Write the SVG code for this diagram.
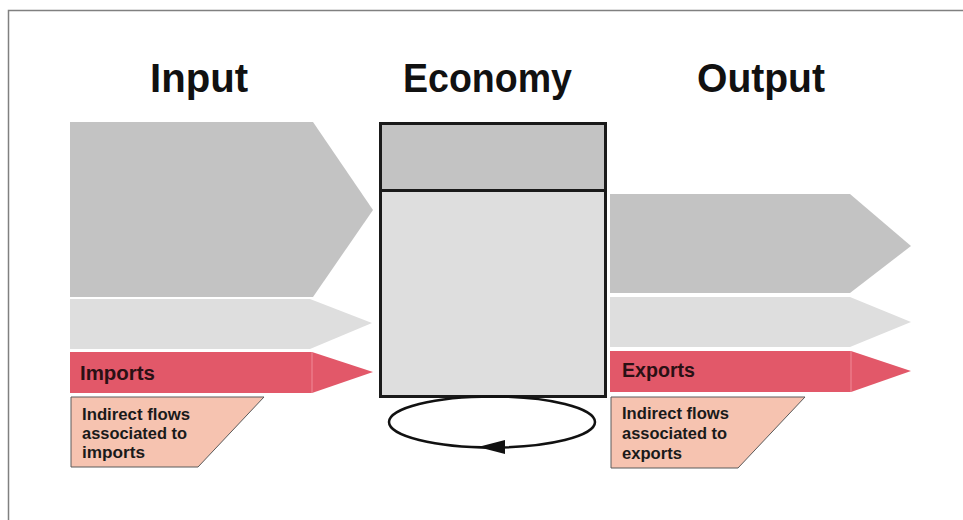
<svg xmlns="http://www.w3.org/2000/svg" width="963" height="520" viewBox="0 0 963 520">
  <style>
    .title { font-family: "Liberation Sans", Arial, sans-serif; font-weight: bold; font-size: 41px; fill: #111; text-anchor: start; }
    .lbl { font-family: "Liberation Sans", Arial, sans-serif; font-weight: bold; font-size: 20px; fill: #2a1014; }
    .small { font-family: "Liberation Sans", Arial, sans-serif; font-weight: bold; font-size: 16.5px; fill: #1a1a1a; }
    .dark { fill: #c3c3c3; }
    .light { fill: #dedede; }
    .red { fill: #e25869; }
    .peach { fill: #f6c3b0; stroke: #5a5a5a; stroke-width: 1; }
    .sep { stroke: #f08a98; stroke-width: 1; }
    .box { stroke: #1a1a1a; stroke-width: 3; }
  </style>
  <rect x="0" y="0" width="963" height="520" fill="#ffffff"/>
  <path d="M8.5,520 L8.5,10.5 L963,10.5" fill="none" stroke="#808080" stroke-width="1.5"/>

  <g id="titles">
    <text class="title" x="150" y="92" textLength="98" lengthAdjust="spacingAndGlyphs">Input</text>
    <text class="title" x="403" y="92" textLength="169" lengthAdjust="spacingAndGlyphs">Economy</text>
    <text class="title" x="697" y="92" textLength="128" lengthAdjust="spacingAndGlyphs">Output</text>
  </g>

  <g id="input-material">
    <polygon class="dark" points="70,122 313,122 373,210 313,297 70,297"/>
  </g>
  <g id="input-other">
    <polygon class="light" points="70,299 310,299 372,323 310,349 70,349"/>
  </g>
  <g id="imports">
    <polygon class="red" points="70,352 312,352 373,372 312,393 70,393"/>
    <line class="sep" x1="312" y1="352" x2="312" y2="393"/>
    <text class="lbl" x="80" y="380" textLength="75" lengthAdjust="spacingAndGlyphs">Imports</text>
  </g>
  <g id="indirect-imports">
    <polygon class="peach" points="71,397 264,397 198,467 71,467"/>
    <text class="small" x="82" y="420" textLength="108" lengthAdjust="spacingAndGlyphs">Indirect flows</text>
    <text class="small" x="82" y="439" textLength="105" lengthAdjust="spacingAndGlyphs">associated to</text>
    <text class="small" x="82" y="458" textLength="63" lengthAdjust="spacingAndGlyphs">imports</text>
  </g>

  <g id="economy">
    <rect class="box" x="380.5" y="123.5" width="225" height="67" fill="#c3c3c3"/>
    <rect class="box" x="380.5" y="190.5" width="225" height="206" fill="#dedede"/>
  </g>

  <g id="output-material">
    <polygon class="dark" points="610,194 850,194 911,246 850,293 610,293"/>
  </g>
  <g id="output-other">
    <polygon class="light" points="610,297 850,297 911,322 850,347 610,347"/>
  </g>
  <g id="exports">
    <polygon class="red" points="610,351 851,351 911,371 851,392 610,392"/>
    <line class="sep" x1="851" y1="351" x2="851" y2="392"/>
    <text class="lbl" x="622" y="377" textLength="73" lengthAdjust="spacingAndGlyphs">Exports</text>
  </g>
  <g id="indirect-exports">
    <polygon class="peach" points="611,397 805,397 738,468 611,468"/>
    <text class="small" x="622" y="419" textLength="107" lengthAdjust="spacingAndGlyphs">Indirect flows</text>
    <text class="small" x="622" y="439" textLength="105" lengthAdjust="spacingAndGlyphs">associated to</text>
    <text class="small" x="622" y="459" textLength="60" lengthAdjust="spacingAndGlyphs">exports</text>
  </g>

  <g id="connectors">
    <ellipse cx="492" cy="422" rx="103" ry="25.5" fill="none" stroke="#111" stroke-width="2.5"/>
    <polygon points="478,447 505,440 505,454" fill="#111"/>
  </g>
</svg>
